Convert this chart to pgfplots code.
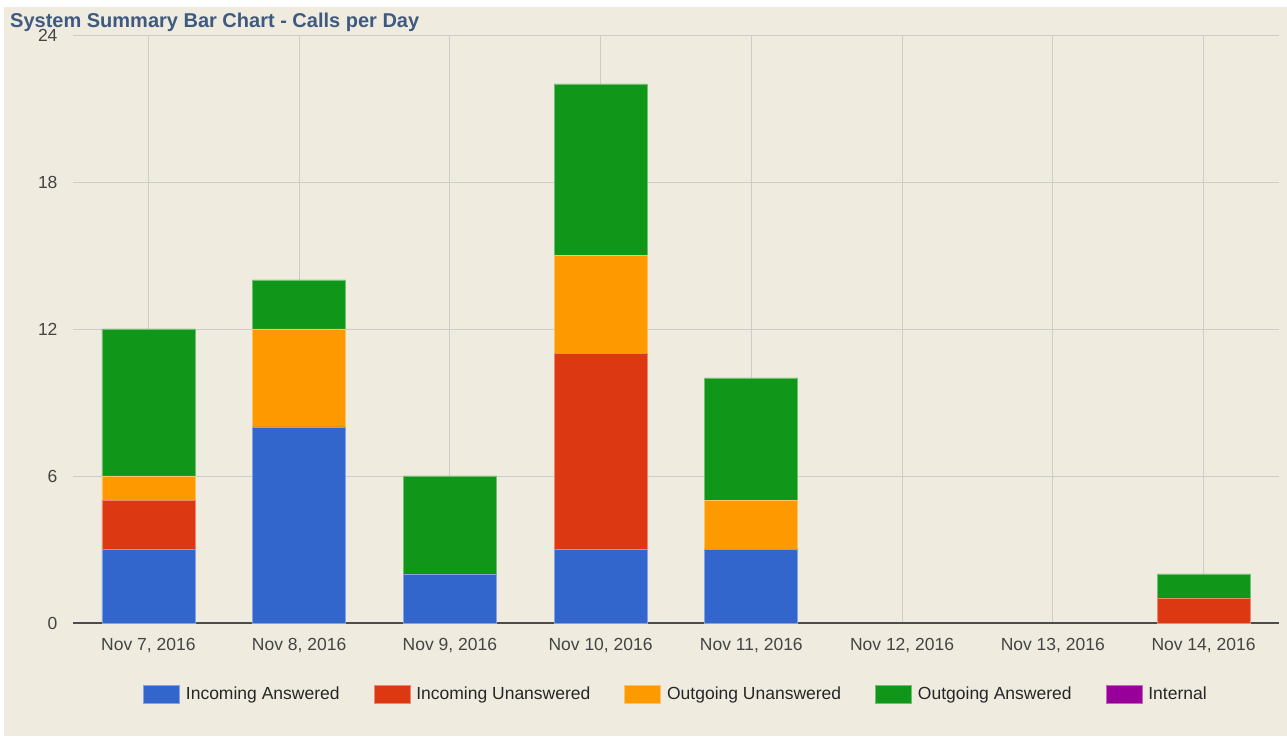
\documentclass[border=0pt]{standalone}
\usepackage{pgfplots}
\pgfplotsset{compat=1.18}
\usepackage{fontspec}
\setmainfont{Liberation Sans}
\definecolor{bg}{HTML}{EFEBDF}
\definecolor{ia}{HTML}{3366CC}
\definecolor{iu}{HTML}{DC3912}
\definecolor{ou}{HTML}{FF9900}
\definecolor{oa}{HTML}{109618}
\definecolor{inl}{HTML}{990099}
\definecolor{ttl}{HTML}{3F5A80}
\definecolor{lbl}{HTML}{444444}
\begin{document}
\begin{tikzpicture}
\fill[white] (0pt,0pt) rectangle (1287pt,736pt);
\fill[bg] (4pt,0pt) rectangle (1287pt,729pt);
\useasboundingbox (0pt,0pt) rectangle (1287pt,736pt);
\begin{axis}[
  at={(73pt,113pt)}, anchor=south west,
  scale only axis, width=1206pt, height=588pt,
  ybar stacked, bar width=93pt,
  xmin=-0.5, xmax=7.5, ymin=0, ymax=24,
  xtick={0,...,7},
  xticklabels={{Nov 7, 2016},{Nov 8, 2016},{Nov 9, 2016},{Nov 10, 2016},{Nov 11, 2016},{Nov 12, 2016},{Nov 13, 2016},{Nov 14, 2016}},
  ytick={0,6,12,18,24},
  /pgf/number format/assume math mode=true,
  major tick length=0pt,
  tick label style={font=\fontsize{17.5}{21}\selectfont, text=lbl},
  xticklabel style={yshift=-12pt},
  yticklabel style={xshift=-12pt},
  xmajorgrids, ymajorgrids,
  grid style={draw=black!20, line width=0.8pt},
  axis x line*=bottom, axis y line*=left,
  x axis line style={-, draw=black!70, line width=1.2pt},
  y axis line style={draw=none},
  legend style={at={(0.5,-0.1207)}, anchor=center, draw=none, fill=none,
    legend columns=-1, font=\fontsize{17.5}{21}\selectfont, text=black!85,
    /tikz/every odd column/.append style={column sep=4pt},
    /tikz/every even column/.append style={column sep=32pt}},
  legend image code/.code={\filldraw[#1] (0pt,-9pt) rectangle (36pt,9pt);},
  every axis plot/.append style={line width=0.7pt},
]
\addplot[fill=ia, draw=ia!60!white] coordinates {(0,3) (1,8) (2,2) (3,3) (4,3) (7,0)};
\addlegendentry{Incoming Answered}
\addplot[fill=iu, draw=iu!60!white] coordinates {(0,2) (1,0) (2,0) (3,8) (4,0) (7,1)};
\addlegendentry{Incoming Unanswered}
\addplot[fill=ou, draw=ou!60!white] coordinates {(0,1) (1,4) (2,0) (3,4) (4,2) (7,0)};
\addlegendentry{Outgoing Unanswered}
\addplot[fill=oa, draw=oa!60!white] coordinates {(0,6) (1,2) (2,4) (3,7) (4,5) (7,1)};
\addlegendentry{Outgoing Answered}
\addlegendimage{fill=inl, draw=inl!60!white, line width=0.7pt}
\addlegendentry{Internal}
\end{axis}
\node[anchor=base west, font=\bfseries\fontsize{20}{24}\selectfont, text=ttl, inner sep=0pt] at (10pt,708pt) {System Summary Bar Chart - Calls per Day};
\end{tikzpicture}
\end{document}
